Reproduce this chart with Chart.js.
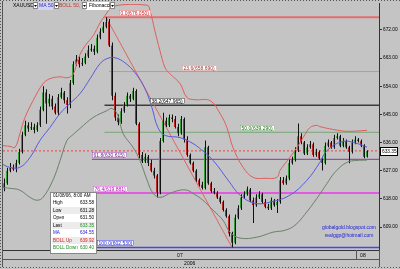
<!DOCTYPE html>
<html>
<head>
<meta charset="utf-8">
<title>XAUUSD</title>
<script src="https://cdn.jsdelivr.net/npm/chart.js@4.4.1/dist/chart.umd.min.js"></script>
<style>
    html, body { margin: 0; padding: 0; background: #c4c4c4; }
    canvas { display: block; }
</style>
</head>
<body>
<canvas id="goldChart" width="400" height="269"></canvas>
<script>
// hourly XAUUSD candles
const opens = [621.5, 623.0, 627.0, 628.0, 627.5, 629.5, 633.0, 638.5, 641.5, 640.5,
    641.0, 640.0, 641.5, 646.5, 652.0, 648.5, 650.0, 647.5, 645.5, 650.5,
    652.0, 649.5, 648.0, 655.0, 661.0, 662.5, 661.0, 661.5, 663.5, 665.5,
    666.0, 665.0, 669.5, 671.5, 673.0, 674.5, 667.0, 651.0, 644.0, 642.5,
    646.0, 648.0, 651.0, 650.0, 652.5, 642.0, 632.0, 630.0, 631.5, 629.5,
    627.0, 625.5, 620.0, 636.5, 643.0, 641.5, 644.0, 643.5, 641.0, 639.0,
    643.5, 637.0, 632.0, 629.5, 627.0, 624.0, 622.5, 621.5, 634.5, 623.0,
    620.5, 620.0, 618.5, 617.0, 614.5, 612.5, 607.0, 604.0, 612.0, 615.0,
    618.5, 619.5, 621.0, 617.5, 616.0, 618.5, 619.5, 617.0, 615.5, 615.0,
    617.5, 616.0, 617.0, 624.0, 623.0, 624.5, 629.5, 630.5, 633.5, 638.0,
    636.0, 632.5, 634.5, 635.5, 632.0, 633.0, 631.0, 629.5, 635.0, 636.0,
    634.5, 637.5, 638.0, 635.0, 636.5, 634.5, 633.0, 636.0, 637.0, 636.5,
    635.0, 631.5];
const highs = [624.5, 628.0, 629.5, 629.0, 630.5, 634.0, 639.5, 643.0, 642.5, 642.5,
    642.0, 642.5, 647.5, 654.0, 653.0, 651.5, 651.0, 648.5, 651.5, 653.5,
    652.5, 650.5, 656.0, 662.0, 664.0, 663.5, 663.0, 664.5, 667.0, 667.5,
    667.0, 670.5, 672.5, 674.5, 676.0, 675.5, 668.0, 652.0, 645.0, 647.0,
    649.0, 652.0, 651.5, 653.5, 653.0, 642.5, 633.0, 632.5, 632.0, 630.5,
    628.0, 626.0, 637.5, 645.5, 644.0, 645.0, 645.0, 644.5, 642.0, 644.5,
    644.0, 638.0, 632.5, 630.0, 627.5, 624.5, 623.5, 636.7, 635.0, 623.5,
    621.5, 620.5, 619.0, 617.5, 615.0, 613.0, 607.5, 613.0, 616.0, 619.5,
    620.5, 622.0, 621.5, 618.5, 619.5, 620.5, 620.0, 618.0, 616.5, 618.5,
    618.0, 618.0, 625.0, 625.0, 625.5, 630.5, 631.5, 634.5, 642.1, 639.0,
    636.5, 635.5, 636.5, 636.0, 634.0, 633.5, 631.5, 636.0, 637.0, 636.5,
    638.5, 639.0, 638.5, 637.5, 637.0, 635.0, 637.0, 638.0, 637.5, 637.0,
    635.5, 633.58];
const lows = [620.5, 622.5, 626.5, 627.0, 626.5, 629.0, 632.5, 638.0, 639.5, 640.0,
    639.0, 639.5, 641.0, 646.0, 642.0, 647.5, 646.5, 645.0, 644.5, 650.0,
    648.5, 645.3, 647.0, 654.5, 660.5, 660.0, 660.5, 661.0, 663.0, 665.0,
    664.0, 664.5, 669.0, 671.0, 672.5, 666.5, 649.5, 643.0, 641.5, 642.0,
    645.5, 647.5, 649.0, 649.5, 641.5, 631.0, 629.5, 629.5, 628.5, 626.5,
    624.5, 618.5, 619.5, 636.0, 641.0, 641.0, 642.5, 640.5, 638.0, 638.5,
    636.0, 631.5, 629.0, 626.5, 623.5, 622.0, 621.0, 621.0, 622.5, 620.0,
    619.5, 618.0, 616.5, 614.0, 612.0, 606.0, 602.5, 603.5, 611.5, 614.5,
    618.0, 619.0, 617.0, 610.3, 615.5, 618.0, 616.5, 615.0, 614.5, 614.5,
    615.5, 613.5, 616.5, 622.5, 622.5, 624.0, 629.0, 630.0, 633.0, 635.5,
    632.0, 632.0, 634.0, 631.5, 631.5, 630.5, 627.1, 629.0, 634.5, 634.0,
    634.0, 637.0, 634.5, 634.5, 634.0, 629.4, 632.5, 635.5, 636.0, 634.5,
    631.0, 631.28];
const closes = [623.0, 627.0, 628.0, 627.5, 629.5, 633.0, 638.5, 641.5, 640.5, 641.0,
    640.0, 641.5, 646.5, 652.0, 648.5, 650.0, 647.5, 645.5, 650.5, 652.0,
    649.5, 648.0, 655.0, 661.0, 662.5, 661.0, 661.5, 663.5, 665.5, 666.0,
    665.0, 669.5, 671.5, 673.0, 674.5, 667.0, 651.0, 644.0, 642.5, 646.0,
    648.0, 651.0, 650.0, 652.5, 642.0, 632.0, 630.0, 631.5, 629.5, 627.0,
    625.5, 620.0, 636.5, 643.0, 641.5, 644.0, 643.5, 641.0, 639.0, 643.5,
    637.0, 632.0, 629.5, 627.0, 624.0, 622.5, 621.5, 634.5, 623.0, 620.5,
    620.0, 618.5, 617.0, 614.5, 612.5, 607.0, 604.0, 612.0, 615.0, 618.5,
    619.5, 621.0, 617.5, 616.0, 618.5, 619.5, 617.0, 615.5, 615.0, 617.5,
    616.0, 617.0, 624.0, 623.0, 624.5, 629.5, 630.5, 633.5, 638.0, 636.0,
    632.5, 634.5, 635.5, 632.0, 633.0, 631.0, 629.5, 635.0, 636.0, 634.5,
    637.5, 638.0, 635.0, 636.5, 634.5, 633.0, 636.0, 637.0, 636.5, 635.0,
    631.5, 633.35];

// indicator curves (candle index -> price)
const maIdx = [-1.3, 2, 5.3, 8.7, 12, 15.3, 18.7, 22, 25.3, 28.7, 32, 34.3, 37, 40.3, 43.7, 47, 49.3, 51.3,
    53.7, 58.7, 63, 65.3, 69.7, 74.7, 78.7, 83.7, 88.7, 95.3, 101, 105.3, 107.7, 113, 117.7, 121];
const maVals = [629.4, 628.1, 628.1, 631.3, 636.7, 640.8, 645.3, 648.5, 651.6, 656.4, 661.2, 662.8, 663.1, 661.5,
    658.3, 653.2, 647.2, 640.8, 638.3, 637.6, 635.7, 634.1, 630.3, 624.0, 619.2, 616.6, 617.0, 619.2, 624.0,
    629.7, 633.5, 636.4, 635.7, 634.55];
const bollUpIdx = [-1.3, 2, 3.7, 5.3, 7, 9.7, 13, 15.3, 18.7, 21, 23, 24.7, 27, 29.7, 32, 34.3, 36.3, 47.7,
    48.7, 50.3, 52, 53.7, 55.3, 58.7, 61, 63.7, 68.7, 72, 74.3, 76.3, 79.7, 83, 87, 91, 92, 95.3, 97.7, 99.7,
    102, 104.3, 105.3, 109.7, 114.3, 121];
const bollUpVals = [635.1, 634.8, 634.5, 638.9, 644.0, 649.4, 654.8, 656.4, 657.0, 656.7, 657.7, 662.8, 666.9,
    670.1, 674.2, 677.4, 679.6, 679.9, 678.0, 671.7, 665.3, 659.9, 658.0, 654.8, 650.4, 649.7, 649.4, 645.3,
    640.8, 634.5, 628.1, 624.9, 624.6, 624.9, 627.1, 631.3, 634.5, 637.6, 640.8, 641.5, 641.1, 640.2, 639.6,
    639.92];
const bollDownIdx = [-1.3, 2, 5.3, 8.7, 11, 13, 16.3, 18.7, 21, 22.7, 25.3, 29.7, 34.3, 36, 38, 39.7, 43, 45.3,
    47.7, 49.7, 52, 55.3, 58.7, 61, 63, 66.3, 69.7, 73, 75.3, 78.7, 84.3, 89.7, 93.7, 97, 100.3, 104.3, 107.7,
    110.3, 114.3, 117.7, 121];
const bollDownVals = [621.7, 621.4, 620.8, 618.5, 617.6, 618.5, 624.0, 630.3, 636.7, 638.3, 640.5, 644.0, 646.2,
    646.9, 644.6, 638.9, 634.5, 630.3, 624.0, 619.8, 618.5, 619.8, 620.8, 620.8, 619.8, 617.6, 614.4, 611.2,
    607.4, 605.5, 605.8, 607.4, 608.0, 609.6, 613.1, 618.2, 623.0, 626.5, 629.7, 630.3, 630.4];

// Fibonacci retracement from the swing high to the swing low
const fibLabels = ['0.0', '23.6', '38.2', '50.0', '61.8', '76.4', '100.0'];
const fibLevels = [676.050, 658.690, 647.965, 639.290, 630.615, 619.881, 602.530];
const fibSwingIdx = [34, 76];

const yTicks = [609, 618, 627, 636, 645, 654, 663, 672];
const xTickIdx = [57.7, 118.7];
const xTickLabels = ['07', '08'];
const yearLabel = '2006';

const toolbarItems = ['XAUUSD', 'MA 50', 'BOLL 50, 2', 'Fibonacci'];
const infoTitle = '01/08/06, 8:00 AM';
const infoLabels = ['High', 'Low', 'Open', 'Last', 'MA', 'BOLL Up', 'BOLL Down'];
const infoValues = [633.58, 631.28, 631.50, 633.35, 634.55, 639.92, 630.40];
const watermark = ['globalgold.blogspot.com', 'realggp@hotmail.com'];

const FONT = '"Liberation Sans", Arial, sans-serif';
const BG = '#c4c4c4';

function font(size) {
    return size + 'px ' + FONT;
}

document.addEventListener('DOMContentLoaded', function() {
    const xMin = -1 / 3;
    const xMax = 125;

    const fibStyle = [
        { color: 'rgb(228,110,110)', text: '#c81818', start: 33.5, labelAt: 38.3, width: 2 },
        { color: 'rgb(196,150,150)', text: '#a03030', start: 35, labelAt: 59.3, width: 1 },
        { color: 'rgb(60,60,60)', text: '#000', start: 33.5, labelAt: 48.7, width: 1.5 },
        { color: 'rgb(120,165,120)', text: '#107010', start: 33.5, labelAt: 78.7, width: 1 },
        { color: 'rgb(150,80,170)', text: '#6a1a8a', start: 29.3, labelAt: 29.3, width: 1.2 },
        { color: 'rgb(225,90,225)', text: '#b010b0', start: 29.3, labelAt: 29.7, width: 2 },
        { color: 'rgb(70,70,225)', text: '#1818c8', start: 30.3, labelAt: 31, width: 1.5 }
    ];

    // wicks sit half a pixel right so they land on one crisp column
    const wickData = closes.map((c, i) => ({ x: i + 1 / 6, y: [lows[i], highs[i]] }));
    const bodyData = closes.map((c, i) => ({ x: i, y: [opens[i], c] }));
    const bodyColors = closes.map((c, i) => c >= opens[i] ? '#35a035' : '#c02525');

    const toPoints = (idx, vals) => idx.map((x, k) => ({ x: x, y: vals[k] }));

    function lineSet(data, color, width, order, extra) {
        return Object.assign({
            type: 'line',
            data: data,
            borderColor: color,
            borderWidth: width,
            pointRadius: 0,
            tension: 0.4,
            fill: false,
            order: order
        }, extra || {});
    }

    const datasets = [
        lineSet(toPoints(maIdx, maVals), 'rgb(90,90,225)', 1, 0),
        lineSet(toPoints(bollUpIdx, bollUpVals), 'rgb(222,95,95)', 1, 0),
        lineSet(toPoints(bollDownIdx, bollDownVals), 'rgb(105,130,105)', 1, 0),
        {
            type: 'bar',
            data: wickData,
            backgroundColor: '#111',
            barThickness: 1,
            grouped: false,
            inflateAmount: 0,
            order: 1
        },
        {
            type: 'bar',
            data: bodyData,
            backgroundColor: bodyColors,
            barThickness: 2,
            grouped: false,
            inflateAmount: 0,
            order: 2
        },
        lineSet([{ x: fibSwingIdx[0], y: fibLevels[0] }, { x: fibSwingIdx[1], y: fibLevels[6] }],
            'rgb(225,100,100)', 1, 3, { tension: 0 }),
        lineSet([{ x: xMin, y: closes[closes.length - 1] }, { x: xMax, y: closes[closes.length - 1] }],
            'rgb(230,70,70)', 1, 3, { tension: 0, borderDash: [2, 2] })
    ];

    fibLevels.forEach((lvl, k) => {
        datasets.push(lineSet([{ x: fibStyle[k].start, y: lvl }, { x: xMax, y: lvl }],
            fibStyle[k].color, fibStyle[k].width, 4, { tension: 0 }));
    });

    const decor = {
        id: 'decor',
        beforeDraw(chart) {
            const c = chart.ctx;
            c.save();
            c.fillStyle = BG;
            c.fillRect(0, 0, chart.width, chart.height);
            c.restore();
        },
        afterDatasetsDraw(chart) {
            const c = chart.ctx;
            const xs = chart.scales.x, ys = chart.scales.y;
            c.save();
            c.font = font(5);
            c.textBaseline = 'alphabetic';
            fibLevels.forEach((lvl, k) => {
                const st = fibStyle[k];
                const txt = fibLabels[k] + '(' + lvl.toFixed(3) + ')';
                const px = Math.round(xs.getPixelForValue(st.labelAt));
                const py = Math.round(ys.getPixelForValue(lvl));
                const w = Math.ceil(c.measureText(txt).width) + 3;
                c.fillStyle = '#fff';
                c.fillRect(px, py - 7, w, 6);
                c.strokeStyle = st.color;
                c.lineWidth = 0.6;
                c.strokeRect(px + 0.5, py - 6.5, w - 1, 5);
                c.fillStyle = st.text;
                c.fillText(txt, px + 1.5, py - 2);
            });
            c.restore();
        },
        afterDraw(chart) {
            const c = chart.ctx;
            const area = chart.chartArea;
            const xs = chart.scales.x, ys = chart.scales.y;
            c.save();

            // frame and ruler edges
            c.strokeStyle = '#555';
            c.lineWidth = 1;
            c.setLineDash([1, 2]);
            c.beginPath();
            c.moveTo(0.5, 0); c.lineTo(0.5, chart.height);
            c.moveTo(0, 0.5); c.lineTo(chart.width, 0.5);
            c.moveTo(0, chart.height - 1.5); c.lineTo(chart.width, chart.height - 1.5);
            c.stroke();
            c.setLineDash([]);
            c.beginPath();
            c.moveTo(area.left - 0.5, 1); c.lineTo(area.left - 0.5, chart.height - 2);
            c.moveTo(area.left, 259.5); c.lineTo(area.right, 259.5);
            c.moveTo(area.right + 0.5, area.bottom); c.lineTo(area.right + 0.5, chart.height - 2);
            const sep = Math.round(xs.getPixelForValue(xTickIdx[1])) - 3.5;
            c.moveTo(sep, area.bottom); c.lineTo(sep, 259.5);
            c.stroke();

            c.fillStyle = '#000';
            c.font = font(5);
            c.textBaseline = 'middle';
            c.textAlign = 'left';
            c.fillText(yearLabel, xs.getPixelForValue(xTickIdx[0]) + 7, 264);

            // last price tag
            const py = Math.round(ys.getPixelForValue(closes[closes.length - 1]));
            c.fillStyle = '#fff';
            c.fillRect(area.right + 1, py - 4, 18, 9);
            c.strokeStyle = '#000';
            c.strokeRect(area.right + 1.5, py - 3.5, 17, 8);
            c.fillStyle = '#000';
            c.font = font(4.8);
            c.fillText(closes[closes.length - 1].toFixed(2), area.right + 3, py + 0.5);

            // toolbar
            const tbX = [13, 39, 59, 89];
            const tbDrop = [33, 54, 82, 110];
            const tbColor = ['#000', '#2a2ad0', '#d03030', '#000'];
            c.font = font(5);
            c.fillStyle = '#d4d4ec';
            c.fillRect(37, 2, 16, 8);
            c.fillStyle = '#fff';
            c.fillRect(86, 2, 23, 8);
            toolbarItems.forEach((t, k) => {
                c.fillStyle = tbColor[k];
                c.fillText(t, tbX[k], 6);
                c.fillStyle = '#fff';
                c.fillRect(tbDrop[k], 2, 5, 7);
                c.strokeStyle = '#888';
                c.strokeRect(tbDrop[k] + 0.5, 2.5, 4, 6);
                c.fillStyle = '#000';
                c.beginPath();
                c.moveTo(tbDrop[k] + 1, 5);
                c.lineTo(tbDrop[k] + 4, 5);
                c.lineTo(tbDrop[k] + 2.5, 7);
                c.fill();
            });

            // data window
            const bx = 50, by = 192, bw = 47, rowH = 7.5;
            const labelColor = ['#000', '#000', '#000', '#000', '#2020d0', '#d02020', '#208a20'];
            const valueColor = ['#000', '#000', '#000', '#208a20', '#2020d0', '#d02020', '#208a20'];
            c.fillStyle = '#fff';
            c.fillRect(bx, by, bw, 62);
            c.strokeStyle = '#888';
            c.strokeRect(bx + 0.5, by + 0.5, bw - 1, 61);
            c.font = font(4.6);
            c.fillStyle = '#000';
            c.fillText(infoTitle, bx + 3, by + 4);
            infoLabels.forEach((lab, k) => {
                const ry = by + 11 + k * rowH;
                if (k % 2 === 1) {
                    c.fillStyle = '#ececec';
                    c.fillRect(bx + 2, ry - 3.5, bw - 4, rowH - 0.5);
                }
                c.textAlign = 'left';
                c.fillStyle = labelColor[k];
                c.fillText(lab, bx + 3, ry);
                c.textAlign = 'right';
                c.fillStyle = valueColor[k];
                c.fillText(infoValues[k].toFixed(2), bx + bw - 3, ry);
            });

            // blog watermark
            c.textAlign = 'center';
            c.fillStyle = '#2020e0';
            c.font = font(5);
            watermark.forEach((t, k) => c.fillText(t, 349, 228 + k * 8));

            c.restore();
        }
    };

    new Chart(document.getElementById('goldChart').getContext('2d'), {
        type: 'bar',
        data: { datasets: datasets },
        options: {
            responsive: false,
            animation: false,
            devicePixelRatio: 1,
            layout: { padding: { left: 3, top: 3, right: 0, bottom: 0 } },
            plugins: {
                legend: { display: false },
                tooltip: { enabled: false }
            },
            scales: {
                x: {
                    type: 'linear',
                    min: xMin,
                    max: xMax,
                    offset: false,
                    grid: { display: false, drawTicks: false },
                    border: { display: true, color: '#333' },
                    afterBuildTicks: axis => { axis.ticks = xTickIdx.map(v => ({ value: v })); },
                    afterFit: axis => { axis.height = 19; },
                    ticks: {
                        autoSkip: false,
                        maxRotation: 0,
                        align: 'start',
                        padding: 3,
                        color: '#000',
                        font: { family: FONT, size: 5 },
                        callback: (v, i) => xTickLabels[i]
                    }
                },
                y: {
                    position: 'right',
                    min: 601.7,
                    max: 680.3,
                    grid: { drawOnChartArea: false, tickLength: 3, color: '#333' },
                    border: { display: true, color: '#333' },
                    afterBuildTicks: axis => { axis.ticks = yTicks.map(v => ({ value: v })); },
                    afterFit: axis => { axis.width = 21; },
                    ticks: {
                        padding: 1,
                        color: '#000',
                        font: { family: FONT, size: 4.8 },
                        callback: v => v.toFixed(2)
                    }
                }
            }
        },
        plugins: [decor]
    });
});
</script>
</body>
</html>
